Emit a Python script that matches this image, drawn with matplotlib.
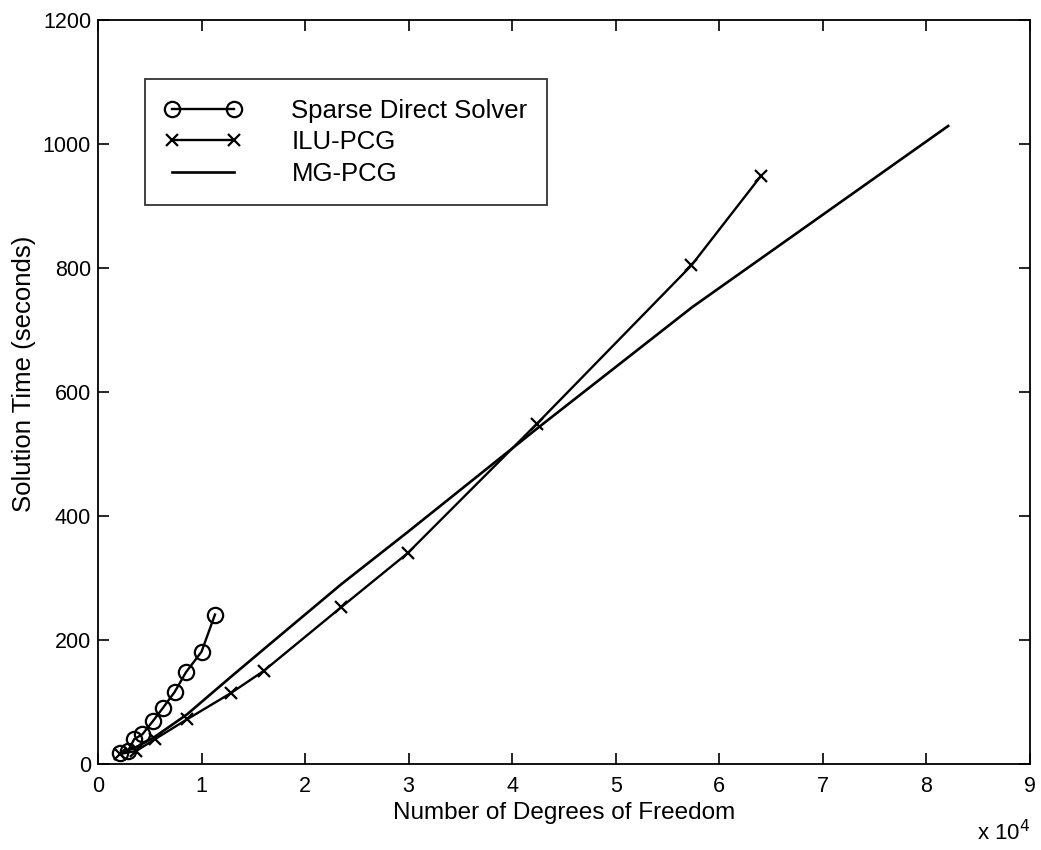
import numpy as np
import matplotlib.pyplot as plt

plt.rcParams['font.family'] = ['Liberation Sans', 'DejaVu Sans']

# Number of degrees of freedom and solution times (seconds)
sparse_dof = [2100, 2900, 3500, 4300, 5300, 6300, 7400, 8500, 10000, 11300]
sparse_time = [17, 21, 40, 48, 69, 91, 116, 148, 181, 241]

ilu_dof = [2100, 3700, 5500, 8600, 12800, 16000, 23500, 29900, 42400, 57300, 64000]
ilu_time = [16, 21, 40, 72, 114, 150, 253, 340, 549, 804, 948]

mg_dof = [2100, 3700, 5500, 8600, 12800, 16000, 23500, 29900, 42400, 57400, 82100]
mg_time = [17, 27, 44, 80, 140, 185, 290, 374, 541, 737, 1029]

scale = 1e4

fig = plt.figure(figsize=(10.41, 8.5), dpi=100)
ax = fig.add_axes([0.0941, 0.1012, 0.8953, 0.8753])

ax.plot(np.array(sparse_dof) / scale, sparse_time, color='black', lw=1.7,
        marker='o', markersize=11, markerfacecolor='none', markeredgewidth=1.6,
        label='Sparse Direct Solver')
ax.plot(np.array(ilu_dof) / scale, ilu_time, color='black', lw=1.7,
        marker='x', markersize=8.5, markeredgewidth=1.6, label='ILU-PCG')
ax.plot(np.array(mg_dof) / scale, mg_time, color='black', lw=1.9, label='MG-PCG')

ax.set_xlim(0, 9)
ax.set_ylim(0, 1200)
ax.set_xticks(range(0, 10))
ax.set_yticks(range(0, 1201, 200))
ax.tick_params(direction='in', length=8, width=1.2, labelsize=15.5,
               top=True, right=True)
ax.tick_params(axis='x', pad=9)
ax.tick_params(axis='y', pad=5)
for s in ax.spines.values():
    s.set_linewidth(1.3)

ax.set_xlabel('Number of Degrees of Freedom', fontsize=17.5, labelpad=3)
ax.set_ylabel('Solution Time (seconds)', fontsize=18.5)
ax.yaxis.set_label_coords(-0.066, 0.525)
ax.text(1.0, -0.075, r'x 10$^4$', transform=ax.transAxes, ha='right',
        va='top', fontsize=16)

leg = ax.legend(loc='upper left', bbox_to_anchor=(0.0504, 0.92), fontsize=18.5,
                frameon=True, fancybox=False, edgecolor='black', numpoints=2,
                handlelength=3.0, handletextpad=1.95, borderpad=0.75,
                labelspacing=0.3, borderaxespad=0)
leg.get_frame().set_linewidth(1.3)

fig.savefig('out.png', dpi=100)
